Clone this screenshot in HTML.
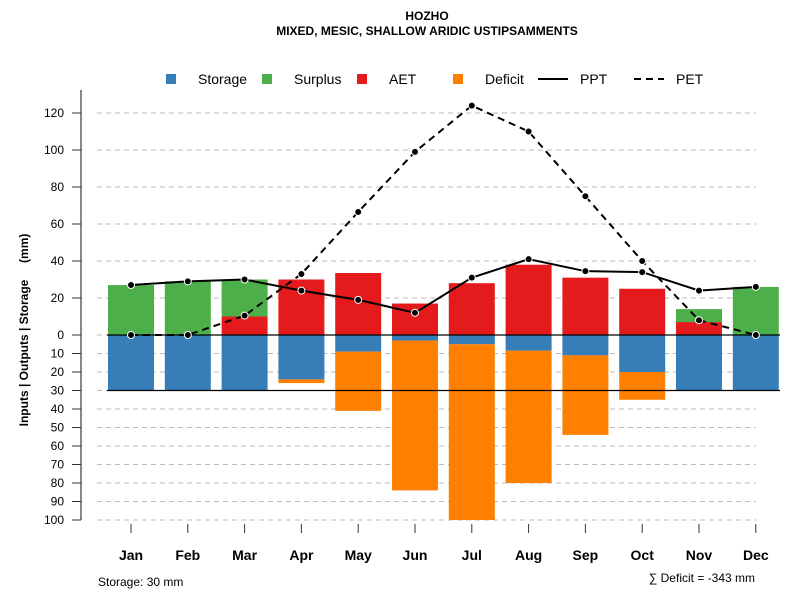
<!DOCTYPE html>
<html><head><meta charset="utf-8"><style>
body{margin:0;background:#fff;font-family:"Liberation Sans",sans-serif}
svg text{font-family:"Liberation Sans",sans-serif}
</style></head><body>
<svg id="c" width="800" height="600" xmlns="http://www.w3.org/2000/svg">
<text x="427" y="20" text-anchor="middle" font-size="12" font-weight="bold">HOZHO</text>
<text x="427" y="35" text-anchor="middle" font-size="12" font-weight="bold">MIXED, MESIC, SHALLOW ARIDIC USTIPSAMMENTS</text>
<g font-size="14">
<rect x="166" y="74" width="10" height="10" fill="#377eb8"/><text x="198" y="84">Storage</text>
<rect x="262" y="74" width="10" height="10" fill="#4daf4a"/><text x="294" y="84">Surplus</text>
<rect x="357" y="74" width="10" height="10" fill="#e41a1c"/><text x="389" y="84">AET</text>
<rect x="453" y="74" width="10" height="10" fill="#ff7f00"/><text x="485" y="84">Deficit</text>
<line x1="538" y1="79" x2="568" y2="79" stroke="#000" stroke-width="2"/><text x="580" y="84">PPT</text>
<line x1="634" y1="79" x2="664" y2="79" stroke="#000" stroke-width="2" stroke-dasharray="7,5"/><text x="676" y="84">PET</text>
</g>
<text transform="translate(28,330) rotate(-90)" text-anchor="middle" font-size="12" font-weight="bold" style="white-space:pre">Inputs | Outputs | Storage     (mm)</text>
<text x="98" y="586" font-size="12">Storage: 30 mm</text>
<text x="755" y="582" text-anchor="end" font-size="12">∑ Deficit = -343 mm</text>
<g id="plot"></g>
</svg>
<script>
const months=["Jan","Feb","Mar","Apr","May","Jun","Jul","Aug","Sep","Oct","Nov","Dec"];
const storage=[30,30,30,24,9,3,5,8.5,11,20,30,30];
const deficit=[0,0,0,2,32,81,95,71.5,43,15,0,0];
const aet=[0,0,10,30,33.5,17,28,38,31,25,7,0];
const surplus=[27,29,20,0,0,0,0,0,0,0,7,26];
const ppt=[27,29,30,24,19,12,31,41,34.5,34,24,26];
const pet=[0,0,10.5,33,66.5,99,124,110,75,40,8,0];
const upTicks=[0,20,40,60,80,100,120];
const downTicks=[10,20,30,40,50,60,70,80,90,100];
const capacity=30;
const NS="http://www.w3.org/2000/svg";
const g=document.getElementById('plot');
const y0=335,k=1.85;
const yU=v=>y0-v*k, yD=v=>y0+v*k;
const xC=i=>131+i*56.8;
const bw=46;
function mk(t,a){const e=document.createElementNS(NS,t);for(const n in a)e.setAttribute(n,a[n]);g.appendChild(e);return e;}
let ax=mk('line',{x1:81,y1:90,x2:81,y2:520,stroke:'#888','stroke-width':2});


function tick(y,lab,nm){
 let gl=mk('line',{x1:97,y1:y,x2:756,y2:y,stroke:'#bbb','stroke-dasharray':'5,4'});
 
 
 let t=mk('line',{x1:72,y1:y,x2:81,y2:y,stroke:'#333'});
 
 
 let tx=mk('text',{x:64,y:y+4,'text-anchor':'end','font-size':12});
 tx.textContent=lab;
 
 
}
upTicks.forEach(v=>tick(yU(v),v,'y-tick-label'));
downTicks.forEach(v=>tick(yD(v),v,'y-tick-label'));
function bar(i,ya,yb,col,nm){
 let r=mk('rect',{x:xC(i)-bw/2,y:Math.min(ya,yb),width:bw,height:Math.abs(yb-ya),fill:col});
 
 
}
months.forEach((m,i)=>{
 bar(i,yD(0),yD(storage[i]),'#377eb8','bar-storage-'+m.toLowerCase());
 if(deficit[i]>0)bar(i,yD(storage[i]),yD(storage[i]+deficit[i]),'#ff7f00','bar-deficit-'+m.toLowerCase());
 if(aet[i]>0)bar(i,yU(0),yU(aet[i]),'#e41a1c','bar-aet-'+m.toLowerCase());
 if(surplus[i]>0)bar(i,yU(aet[i]),yU(aet[i]+surplus[i]),'#4daf4a','bar-surplus-'+m.toLowerCase());
 let t=mk('line',{x1:xC(i),y1:524,x2:xC(i),y2:533,stroke:'#333'});
 
 
 let tx=mk('text',{x:xC(i),y:560,'text-anchor':'middle','font-size':14,'font-weight':'bold'});
 tx.textContent=m;
 
 
});
let zl=mk('line',{x1:107,y1:y0,x2:780,y2:y0,stroke:'#000','stroke-width':1.2});


let cl=mk('line',{x1:107,y1:yD(capacity),x2:780,y2:yD(capacity),stroke:'#000','stroke-width':1.2});


function series(vals,dash,nm){
 let p=mk('polyline',{points:vals.map((v,i)=>xC(i)+','+yU(v)).join(' '),fill:'none',stroke:'#000','stroke-width':2});
 if(dash)p.setAttribute('stroke-dasharray','7,5');
 
 
 vals.forEach((v,i)=>{
  let c=mk('circle',{cx:xC(i),cy:yU(v),r:3.5,fill:'#000',stroke:'#fff','stroke-width':1});
  
  
 });
}
series(ppt,false,'ppt');
series(pet,true,'pet');
</script>
</body></html>
